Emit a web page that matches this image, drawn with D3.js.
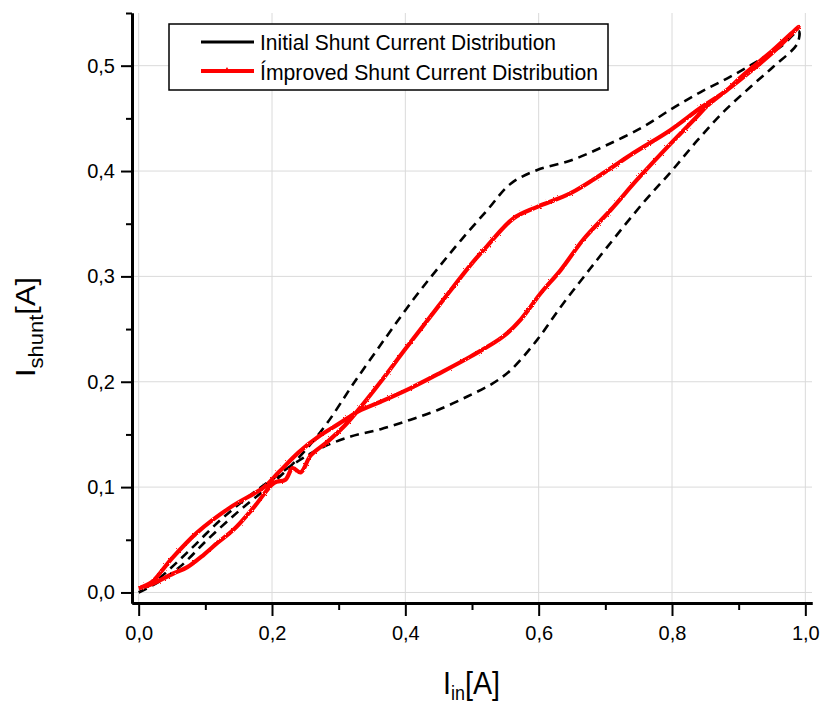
<!DOCTYPE html>
<html>
<head>
<meta charset="utf-8">
<script src="https://cdn.jsdelivr.net/npm/d3@7"></script>
<style>
  body { margin: 0; background: #fff; }
  text { font-family: "Liberation Sans", Arial, sans-serif; fill: #000; }
</style>
</head>
<body>
<div id="chart"></div>
<script>
// ---- data ----
// black dashed loop, initial distribution: rising branch then return branch
const initUpX = [0, 0.03, 0.063, 0.103, 0.148, 0.188, 0.22, 0.25, 0.283, 0.323, 0.373, 0.413, 0.448, 0.483, 0.523, 0.558, 0.598, 0.648, 0.70, 0.757, 0.802, 0.843, 0.883, 0.922, 0.963, 0.99];
const initUpY = [0, 0.010, 0.025, 0.050, 0.076, 0.097, 0.115, 0.135, 0.161, 0.199, 0.244, 0.279, 0.307, 0.334, 0.363, 0.388, 0.401, 0.410, 0.424, 0.442, 0.460, 0.475, 0.488, 0.502, 0.518, 0.533];
const initDownX = [0.99, 0.988, 0.952, 0.918, 0.877, 0.838, 0.798, 0.757, 0.703, 0.667, 0.633, 0.598, 0.558, 0.53, 0.493, 0.448, 0.408, 0.363, 0.318, 0.273, 0.24, 0.21, 0.173, 0.123, 0.073, 0.028, 0];
const initDownY = [0.533, 0.521, 0.499, 0.480, 0.456, 0.429, 0.399, 0.370, 0.328, 0.299, 0.271, 0.240, 0.211, 0.198, 0.186, 0.173, 0.164, 0.155, 0.148, 0.137, 0.125, 0.112, 0.095, 0.069, 0.038, 0.012, 0];

// red loop, improved distribution
const impUpX = [0, 0.02, 0.052, 0.073, 0.098, 0.118, 0.143, 0.173, 0.203, 0.220, 0.231, 0.243, 0.258, 0.283, 0.31, 0.333, 0.363, 0.40, 0.45, 0.498, 0.523, 0.562, 0.598, 0.648, 0.697, 0.742, 0.798, 0.843, 0.883, 0.903, 0.952, 0.99];
const impUpY = [0.004, 0.008, 0.018, 0.024, 0.036, 0.047, 0.060, 0.081, 0.104, 0.107, 0.118, 0.114, 0.130, 0.143, 0.159, 0.176, 0.200, 0.231, 0.272, 0.311, 0.329, 0.355, 0.366, 0.379, 0.398, 0.417, 0.439, 0.460, 0.477, 0.489, 0.515, 0.537];
const impDownX = [0.99, 0.952, 0.903, 0.853, 0.838, 0.798, 0.748, 0.708, 0.667, 0.633, 0.603, 0.573, 0.547, 0.498, 0.448, 0.408, 0.363, 0.33, 0.30, 0.27, 0.24, 0.21, 0.188, 0.138, 0.088, 0.048, 0.02, 0];
const impDownY = [0.537, 0.513, 0.487, 0.462, 0.452, 0.426, 0.392, 0.363, 0.335, 0.306, 0.284, 0.259, 0.243, 0.224, 0.207, 0.194, 0.181, 0.172, 0.160, 0.148, 0.133, 0.114, 0.100, 0.081, 0.057, 0.031, 0.010, 0.004];

const xMajor = [0, 0.2, 0.4, 0.6, 0.8, 1.0];
const xMinor = [0.1, 0.3, 0.5, 0.7, 0.9];
const yMajor = [0, 0.1, 0.2, 0.3, 0.4, 0.5];
const yMinor = [0.05, 0.15, 0.25, 0.35, 0.45, 0.55];
const seriesNames = ["Initial Shunt Current Distribution", "Ímproved Shunt Current Distribution"];

//width and height of svg
const width = 821;
const height = 704;

const svg = d3.select("#chart").append("svg")
	.attr("width", width)
	.attr("height", height)
	.style("display", "block")
	.style("background", "#fff");

// scales
const x = d3.scaleLinear().domain([-0.01, 1.01]).range([132, 812]);
const y = d3.scaleLinear().domain([-0.01, 0.55]).range([603, 13]);
const commaFmt = v => d3.format(".1f")(v).replace(".", ",");

// rough edge for the red trace
const defs = svg.append("defs");
const rough = defs.append("filter").attr("id", "rough")
	.attr("x", "-5%").attr("y", "-5%").attr("width", "110%").attr("height", "110%");
rough.append("feTurbulence").attr("type", "fractalNoise").attr("baseFrequency", 1.6).attr("numOctaves", 1).attr("seed", 3).attr("result", "n");
rough.append("feDisplacementMap").attr("in", "SourceGraphic").attr("in2", "n").attr("scale", 2.5);

// grid
const grid = svg.append("g").attr("stroke", "#dadada").attr("stroke-width", 1);
grid.selectAll(".gx").data(xMajor).join("line")
	.attr("x1", d => x(d)).attr("x2", d => x(d))
	.attr("y1", y(0.55)).attr("y2", y(-0.01));
grid.selectAll(".gy").data(yMajor).join("line")
	.attr("x1", x(-0.01)).attr("x2", x(1.01))
	.attr("y1", d => y(d)).attr("y2", d => y(d));

// curves
const line = d3.line().x(d => x(d[0])).y(d => y(d[1])).curve(d3.curveCatmullRom.alpha(0.5));
const zip = (xs, ys) => xs.map((v, i) => [v, ys[i]]);

const initLoop = zip(initUpX, initUpY).concat(zip(initDownX, initDownY).slice(1));
const impLoop = zip(impUpX, impUpY).concat(zip(impDownX, impDownY).slice(1));

svg.append("path")
	.attr("d", line(initLoop))
	.attr("fill", "none")
	.attr("stroke", "#000")
	.attr("stroke-width", 2.6)
	.attr("stroke-dasharray", "9,6");

svg.append("path")
	.attr("d", line(impLoop))
	.attr("fill", "none")
	.attr("stroke", "#ff0000")
	.attr("stroke-width", 4.2)
	.attr("stroke-linejoin", "round")
	.attr("filter", "url(#rough)");

// axes
const xAxis = svg.append("g").attr("transform", `translate(0,${y(-0.01)})`)
	.call(d3.axisBottom(x).tickValues(xMajor).tickSize(13).tickSizeOuter(0).tickPadding(10).tickFormat(commaFmt));
const xAxisMinor = svg.append("g").attr("transform", `translate(0,${y(-0.01)})`)
	.call(d3.axisBottom(x).tickValues(xMinor).tickSize(7).tickSizeOuter(0).tickFormat(""));
const yAxis = svg.append("g").attr("transform", `translate(${x(-0.01)},0)`)
	.call(d3.axisLeft(y).tickValues(yMajor).tickSize(11).tickSizeOuter(0).tickPadding(6).tickFormat(commaFmt));
const yAxisMinor = svg.append("g").attr("transform", `translate(${x(-0.01)},0)`)
	.call(d3.axisLeft(y).tickValues(yMinor).tickSize(6).tickSizeOuter(0).tickFormat(""));

[xAxis, xAxisMinor, yAxis, yAxisMinor].forEach(a => {
	a.select(".domain").attr("stroke", "#000").attr("stroke-width", 3);
	a.selectAll(".tick line").attr("stroke", "#000").attr("stroke-width", 2);
	a.selectAll(".tick text").attr("font-size", 20).attr("fill", "#000")
		.style("font-family", "'Liberation Sans', Arial, sans-serif");
});

// axis titles
svg.append("text")
	.attr("x", 443).attr("y", 694)
	.attr("font-size", 32)
	.attr("textLength", 57).attr("lengthAdjust", "spacingAndGlyphs")
	.call(t => {
		t.append("tspan").text("I");
		t.append("tspan").attr("font-size", 20).attr("dy", 6).text("in");
		t.append("tspan").attr("dy", -6).text("[A]");
	});

svg.append("text")
	.attr("transform", "translate(35,377) rotate(-90)")
	.attr("font-size", 28)
	.attr("textLength", 100).attr("lengthAdjust", "spacingAndGlyphs")
	.call(t => {
		t.append("tspan").text("I");
		t.append("tspan").attr("font-size", 20).attr("dy", 8).text("shunt");
		t.append("tspan").attr("dy", -8).text("[A]");
	});

// legend
const legend = svg.append("g");
legend.append("rect")
	.attr("x", 169).attr("y", 24).attr("width", 439).attr("height", 66)
	.attr("fill", "#fff").attr("stroke", "#000").attr("stroke-width", 1.5);
legend.append("line")
	.attr("x1", 201).attr("x2", 254).attr("y1", 42).attr("y2", 42)
	.attr("stroke", "#000").attr("stroke-width", 3);
legend.append("line")
	.attr("x1", 201).attr("x2", 254).attr("y1", 71).attr("y2", 71)
	.attr("stroke", "#ff0000").attr("stroke-width", 4);
legend.append("path")
	.attr("d", d3.symbol(d3.symbolTriangle, 22)())
	.attr("transform", "translate(227,71)")
	.attr("fill", "#ff0000");
legend.append("text")
	.attr("x", 260).attr("y", 50).attr("font-size", 22)
	.attr("textLength", 296).attr("lengthAdjust", "spacingAndGlyphs")
	.text(seriesNames[0]);
legend.append("text")
	.attr("x", 260).attr("y", 80).attr("font-size", 22)
	.attr("textLength", 338).attr("lengthAdjust", "spacingAndGlyphs")
	.text(seriesNames[1]);
</script>
</body>
</html>
